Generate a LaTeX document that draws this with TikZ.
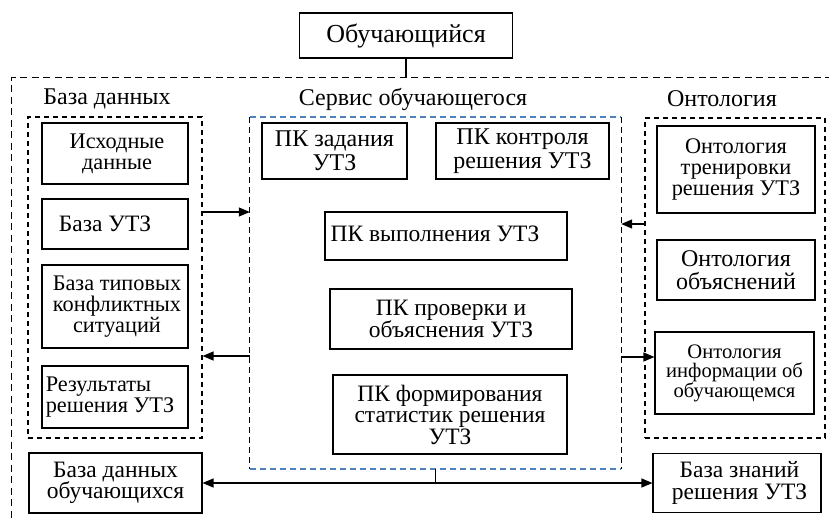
\documentclass[tikz,border=0pt]{standalone}
\usepackage{fontspec}
\setmainfont{Liberation Serif}
\usetikzlibrary{arrows.meta}
\definecolor{svcblue}{RGB}{79,129,189}
\tikzset{
  box/.style={draw, line width=1.1pt, inner sep=0pt, align=center,
    font=\fontsize{23.5}{21.5}\selectfont},
  smallbox/.style={box, font=\fontsize{22.3}{21}\selectfont},
  bigbox/.style={box, font=\fontsize{24}{23.5}\selectfont},
  grp/.style={draw, line width=1.2pt, dash pattern=on 6pt off 4pt, inner sep=0pt},
  lbl/.style={inner sep=0pt, font=\fontsize{24}{23}\selectfont},
  conn/.style={line width=1.3pt},
  arr/.style={conn, -{Triangle[length=11pt,width=9pt]}},
  darr/.style={conn, {Triangle[length=11pt,width=9pt]}-{Triangle[length=11pt,width=9pt]}}
}
\begin{document}
\begin{tikzpicture}[x=1pt,y=-1pt]
\clip (0,0) rectangle (829,520);
\fill[white] (0,0) rectangle (829,520);

% top
\node[box, font=\fontsize{26}{24}\selectfont, minimum width=213pt, minimum height=45pt] (top) at (406,35.5) {Обучающийся};
\node[grp, dash pattern=on 7pt off 4.5pt, minimum width=830pt, minimum height=460pt, anchor=north west] (outer) at (11,77) {};

% labels
\node[lbl] (lbd) at (107,99) {База данных};
\node[lbl] (lsvc) at (413,99) {Сервис обучающегося};
\node[lbl] (lont) at (722,99) {Онтология};

% database group
\node[grp, dash pattern=on 5pt off 4pt, minimum width=174pt, minimum height=321pt] (db) at (115,277.5) {};
\node[smallbox, minimum width=146pt, minimum height=61pt] (isx) at (115,153.5) {\hspace*{4pt}Исходные\\\hspace*{4pt}данные};
\node[box, minimum width=146pt, minimum height=50pt] (butz) at (115,224) {База УТЗ\hspace*{20pt}};
\node[smallbox, minimum width=146pt, minimum height=83pt] (konf) at (115,306.5) {\hspace*{4pt}База типовых\\\hspace*{4pt}конфликтных\\\hspace*{4pt}ситуаций};
\node[smallbox, minimum width=146pt, minimum height=62pt, align=left] (res) at (115,397) {Результаты\hspace*{28pt}\\решения УТЗ\hspace*{10pt}};

% service group
\node[inner sep=0pt, minimum width=371pt, minimum height=352pt] (svc) at (435.5,293) {};
\draw[line width=1.5pt, svcblue, dash pattern=on 6pt off 4pt] (svc.north west) -- (svc.north east);
\draw[line width=1.5pt, svcblue, dash pattern=on 6pt off 4pt] (svc.south west) -- (svc.south east);
\draw[line width=1.2pt, dash pattern=on 6pt off 4pt] (svc.north west) -- (svc.south west);
\draw[line width=1.2pt, dash pattern=on 6pt off 4pt] (svc.north east) -- (svc.south east);

\node[bigbox, minimum width=145pt, minimum height=56pt] (pkz) at (334.5,151) {ПК задания\\УТЗ};
\node[bigbox, minimum width=173pt, minimum height=56pt] (pkk) at (522.5,151) {\raisebox{-4pt}{\parbox{170pt}{\centering ПК контроля\\решения УТЗ}}};
\node[box, minimum width=242pt, minimum height=48pt] (pkv) at (446,236) {\raisebox{4pt}{ПК выполнения УТЗ\hspace*{22pt}}};
\node[box, minimum width=242pt, minimum height=60pt] (pkp) at (451,319) {ПК проверки и\\объяснения УТЗ};
\node[box, minimum width=234pt, minimum height=79pt] (pkf) at (450,414.5) {ПК формирования\\статистик решения\\УТЗ};

% ontology group
\node[grp, dash pattern=on 5pt off 4pt, minimum width=180pt, minimum height=320pt] (ont) at (735,278) {};
\node[smallbox, minimum width=158pt, minimum height=87pt] (otr) at (736,169.5) {Онтология\\тренировки\\решения УТЗ};
\node[bigbox, minimum width=158pt, minimum height=60pt] (oob) at (736,270) {Онтология\\объяснений};
\node[box, font=\fontsize{20.6}{19.5}\selectfont, minimum width=159pt, minimum height=82pt] (oinf) at (734.5,373) {Онтология\\информации об\\обучающемся};

% bottom boxes
\node[box, minimum width=173pt, minimum height=60pt] (bdo) at (115.5,483) {База данных\\обучающихся};
\node[box, minimum width=168pt, minimum height=59pt] (bzn) at (737,483) {\hspace*{5pt}База знаний\\\hspace*{5pt}решения УТЗ};

% connectors
\coordinate (ya) at (0,212);
\coordinate (yb) at (0,356);
\coordinate (yc) at (0,224);
\coordinate (yd) at (0,357);
\draw[conn] (top.south) -- (top.south |- outer.north);
\draw[arr] (db.east |- ya) -- (svc.west |- ya);
\draw[arr] (svc.west |- yb) -- (db.east |- yb);
\draw[arr] (ont.west |- yc) -- (svc.east |- yc);
\draw[arr] (svc.east |- yd) -- (oinf.west |- yd);
\draw[darr] (bdo.east) -- (bzn.west);
\draw[conn] (svc.south) -- (svc.south |- bdo.east);
\end{tikzpicture}
\end{document}
